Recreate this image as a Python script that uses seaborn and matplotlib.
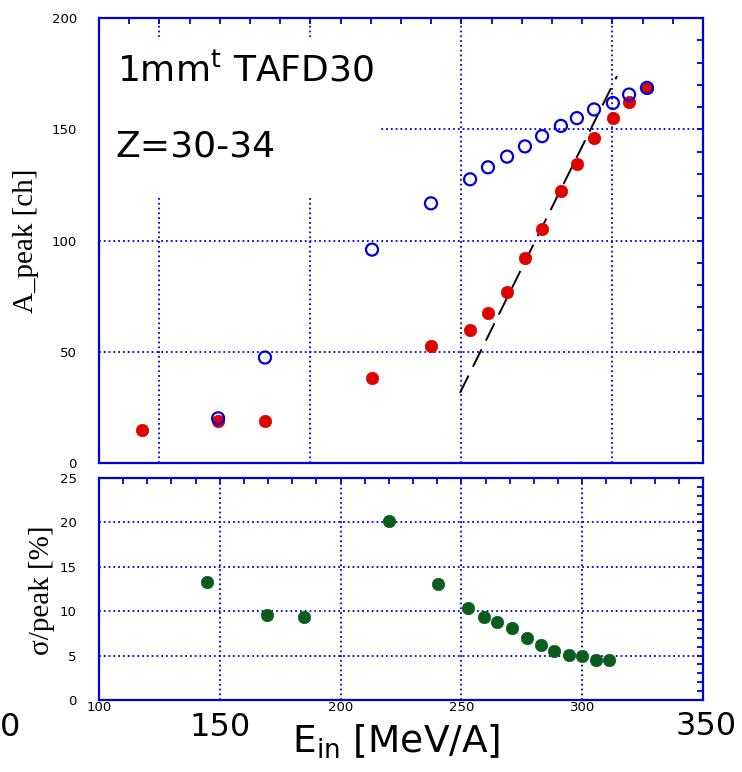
import matplotlib
matplotlib.use("Agg")
import matplotlib.pyplot as plt
import matplotlib.patches as mpatches
from matplotlib.ticker import MultipleLocator, FixedFormatter, FixedLocator
import seaborn as sns

# beam energy [MeV/A] and peak position [ch]
e_red = [117.8, 149.3, 168.7, 213.0, 237.4, 253.6, 261.0, 268.9, 276.3, 283.4,
         291.2, 297.8, 304.9, 312.7, 319.4, 326.8]
a_red = [14.9, 19.1, 18.9, 38.3, 52.7, 59.9, 67.3, 77.0, 92.0, 105.0,
         122.2, 134.5, 146.1, 155.1, 162.3, 168.5]
e_blue = [149.3, 168.7, 213.0, 237.4, 253.6, 261.0, 268.9, 276.3, 283.4,
          291.2, 297.8, 304.9, 312.7, 319.4, 326.8]
a_blue = [20.1, 47.4, 95.9, 116.7, 127.5, 132.9, 137.7, 142.3, 146.9,
          151.5, 155.0, 158.9, 161.8, 165.6, 168.6]
# linear fit (dashed)
fit_e = [249.4, 314.4]
fit_a = [31.5, 173.9]

# resolution sigma/peak [%]
e_green = [144.7, 169.5, 184.9, 220.0, 240.3, 252.7, 259.4, 264.7, 271.0, 277.2,
           283.0, 288.4, 294.5, 299.9, 305.7, 311.0]
res_green = [13.3, 9.6, 9.4, 20.2, 13.1, 10.4, 9.4, 8.75, 8.07, 6.95,
             6.2, 5.55, 5.07, 4.9, 4.47, 4.47]

# small x tick labels of the lower panel (150 and 350 sit under the big labels)
x_ticks = [100, 150, 200, 250, 300, 350]
x_ticklabels = ["100", "", "200", "250", "300", ""]

BLUE = "#0000dd"
RED = "#e00000"
GREEN = "#0b5d1e"

sns.set_style("white")
plt.rcParams["font.family"] = ["DejaVu Sans"]
plt.rcParams["text.color"] = "black"
plt.rcParams["axes.labelcolor"] = "black"

fig = plt.figure(figsize=(7.42, 7.72), dpi=100)
ax1 = fig.add_axes([99 / 742, 1 - 463 / 772, 604 / 742, 445 / 772])
ax2 = fig.add_axes([99 / 742, 1 - 700 / 772, 604 / 742, 222 / 772])


def style_axes(ax):
    for sp in ax.spines.values():
        sp.set_color(BLUE)
        sp.set_linewidth(1.6)
        sp.set_visible(True)
    ax.tick_params(which="both", direction="in", top=True, right=True,
                   color=BLUE, width=1.3, length=4.5, labelsize=9.5,
                   labelcolor="black")
    ax.grid(True, which="major", color=BLUE, linestyle=":", linewidth=1.3)
    ax.set_axisbelow(True)


# top panel
style_axes(ax1)
ax1.set_xlim(100, 350)
ax1.set_ylim(0, 200)
ax1.xaxis.set_major_locator(MultipleLocator(62.5))
ax1.xaxis.set_minor_locator(MultipleLocator(12.5))
ax1.yaxis.set_major_locator(MultipleLocator(50))
ax1.yaxis.set_minor_locator(MultipleLocator(10))
ax1.tick_params(axis="x", labelbottom=False)
ax1.tick_params(axis="y", pad=16)

# white box behind the labels
ax1.add_patch(mpatches.Rectangle((0, 0.598), 0.465, 0.359, transform=ax1.transAxes,
                                 facecolor="white", edgecolor="none", zorder=1))

ax1.plot(fit_e, fit_a, color="black", linewidth=1.4, dashes=(10, 5), zorder=2)
sns.scatterplot(x=e_red, y=a_red, ax=ax1, color=RED, edgecolor=RED, s=80,
                linewidth=0.5, zorder=3)
sns.scatterplot(x=e_blue, y=a_blue, ax=ax1, facecolor="none", edgecolor=BLUE,
                s=75, linewidth=1.6, zorder=4)

ax1.text(0.03, 0.858, r"$\mathregular{1mm^{t}}$ TAFD30", transform=ax1.transAxes,
         fontsize=26, ha="left", va="baseline", zorder=5)
ax1.text(0.027, 0.688, "Z=30-34", transform=ax1.transAxes,
         fontsize=26, ha="left", va="baseline", zorder=5)
ax1.set_xlabel("")
ax1.set_ylabel("")

# bottom panel
style_axes(ax2)
ax2.set_xlim(100, 350)
ax2.set_ylim(0, 25)
ax2.xaxis.set_major_locator(FixedLocator(x_ticks))
ax2.xaxis.set_major_formatter(FixedFormatter(x_ticklabels))
ax2.xaxis.set_minor_locator(MultipleLocator(10))
ax2.yaxis.set_major_locator(MultipleLocator(5))
ax2.yaxis.set_minor_locator(MultipleLocator(1))
ax2.tick_params(axis="x", pad=1)
ax2.tick_params(axis="y", pad=16)
sns.scatterplot(x=e_green, y=res_green, ax=ax2, color=GREEN, edgecolor=GREEN,
                s=80, linewidth=0.5, zorder=3)
ax2.set_xlabel("")
ax2.set_ylabel("")

# axis titles
fig.text(26 / 742, 1 - 241 / 772, "A_peak [ch]", rotation=90, ha="center",
         va="center", fontsize=21, family=["Liberation Serif"])
fig.text(42 / 742, 1 - 590 / 772, "σ/peak [%]", rotation=90, ha="center",
         va="center", fontsize=21, family=["Liberation Serif"])

# large labels along the bottom
big = dict(fontsize=23, va="baseline")
fig.text(0 / 742, 1 - 736 / 772, "0", ha="left", **big)
fig.text(220 / 742, 1 - 736 / 772, "150", ha="center", **big)
fig.text(706 / 742, 1 - 735 / 772, "350", ha="center", **big)
fig.text(292 / 742, 1 - 753 / 772, r"$\mathregular{E_{in}}$ [MeV/A]", ha="left",
         va="baseline", fontsize=27)

fig.savefig("out.png", dpi=100)
